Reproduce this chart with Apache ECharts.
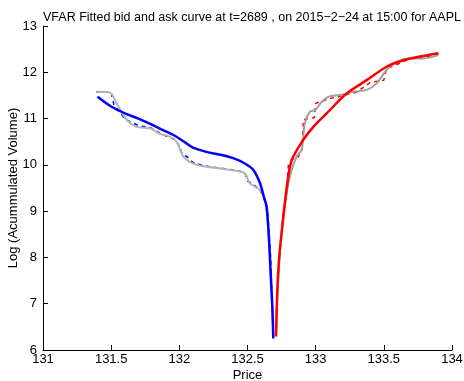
<!DOCTYPE html>
<html><head><meta charset="utf-8">
<script src="https://cdn.jsdelivr.net/npm/echarts@6/dist/echarts.min.js"></script>
<style>html,body{margin:0;padding:0;background:#fff}#c{width:464px;height:381px}</style>
</head><body><div id="c"></div>
<script>
var titleText = 'VFAR Fitted bid and ask curve at t=2689 , on 2015\u22122\u221224 at 15:00 for AAPL';
var xTicks = [131, 131.5, 132, 132.5, 133, 133.5, 134];

var bidFitX = [131.40,131.50,131.61,131.70,131.79,131.88,131.96,132.03,132.10,132.20,132.30,132.40,132.48,132.54,132.59,132.62,132.64,132.658,132.670,132.682,132.689];
var bidFitY = [11.47,11.26,11.10,11.00,10.88,10.75,10.64,10.51,10.37,10.28,10.22,10.14,10.03,9.90,9.62,9.31,9.10,8.38,7.66,6.94,6.25];

var askFitX = [132.709,132.719,132.733,132.758,132.792,132.824,132.909,132.983,133.08,133.227,133.374,133.52,133.643,133.765,133.90];
var askFitY = [6.29,7.30,8.02,8.74,9.60,10.10,10.54,10.82,11.11,11.54,11.83,12.12,12.26,12.34,12.41];

var bidObsX = [131.39,131.49,131.54,131.614,131.687,131.785,131.858,131.93,131.98,132.03,132.10,132.176,132.30,132.42,132.48,132.518,132.59,132.628,132.645,132.66,132.672,132.684,132.69];
var bidObsY = [11.58,11.56,11.33,10.97,10.82,10.79,10.67,10.61,10.50,10.18,10.03,9.97,9.92,9.87,9.82,9.60,9.46,9.24,8.9,8.2,7.4,6.8,6.3];

var bidRawX = [131.39,131.50,131.52,131.60,131.64,131.70,131.79,131.86,131.92,131.97,132.00,132.02,132.06,132.10,132.18,132.30,132.42,132.48,132.50,132.53,132.59,132.63,132.65,132.67,132.68,132.69];
var bidRawY = [11.58,11.57,11.30,11.00,10.93,10.85,10.80,10.68,10.60,10.55,10.40,10.24,10.17,10.05,9.98,9.93,9.88,9.83,9.65,9.61,9.46,9.24,8.9,8.0,7.0,6.3];

var askObsX = [132.71,132.72,132.74,132.763,132.81,132.86,132.897,132.92,132.958,132.995,133.044,133.093,133.18,133.276,133.374,133.447,133.52,133.594,133.692,133.79,133.90];
var askObsY = [6.3,7.2,8.2,8.88,9.74,10.18,10.32,10.89,11.15,11.18,11.36,11.47,11.51,11.58,11.62,11.76,12.05,12.23,12.30,12.30,12.37];

var askRawX = [132.71,132.72,132.74,132.76,132.79,132.80,132.83,132.87,132.90,132.91,132.99,133.00,133.09,133.20,133.30,133.40,133.50,133.52,133.58,133.70,133.80,133.90];
var askRawY = [6.3,7.3,8.2,8.9,9.6,10.0,10.12,10.16,10.35,10.98,11.02,11.33,11.42,11.50,11.57,11.78,11.83,12.08,12.15,12.30,12.32,12.40];

function pairs(xs, ys){ return xs.map(function(x,i){ return [x, ys[i]]; }); }

var FONT = '"Liberation Sans", Arial, sans-serif';
var chart = echarts.init(document.getElementById('c'), null, {renderer:'canvas'});
chart.setOption({
  animation: false,
  backgroundColor: '#fff',
  title: { text: titleText, left: 247, textAlign: 'center', top: 6,
    textStyle: { fontFamily: FONT, fontSize: 12.5, fontWeight: 'normal', color: '#000' } },
  grid: { left: 43, right: 12, top: 26, bottom: 31, containLabel: false, outerBoundsMode: 'none' },
  xAxis: { type: 'value', min: 131, max: 134, interval: 0.5,
    name: 'Price', nameLocation: 'middle', nameGap: 19, nameMoveOverlap: false,
    nameTextStyle: { fontFamily: FONT, fontSize: 13, color: '#000' },
    axisLine: { show: true, lineStyle: { color: '#000', width: 1 } },
    axisTick: { show: true, inside: true, length: 5, lineStyle: { color: '#000' } },
    axisLabel: { fontFamily: FONT, fontSize: 13, color: '#000', margin: 3,
      formatter: function(v){ return String(v); } },
    splitLine: { show: false } },
  yAxis: { type: 'value', min: 6, max: 13, interval: 1,
    name: 'Log (Acummulated Volume)', nameLocation: 'middle', nameGap: 23, nameMoveOverlap: false,
    nameTextStyle: { fontFamily: FONT, fontSize: 13, color: '#000' },
    axisLine: { show: true, lineStyle: { color: '#000', width: 1 } },
    axisTick: { show: true, inside: true, length: 5, lineStyle: { color: '#000' } },
    axisLabel: { fontFamily: FONT, fontSize: 13, color: '#000', margin: 6 },
    splitLine: { show: false } },
  series: [
    { type: 'line', data: pairs(bidRawX, bidRawY), showSymbol: false, z: 1,
      lineStyle: { color: '#0000ff', width: 1.5, type: [4, 4] } },
    { type: 'line', data: pairs(askRawX, askRawY), showSymbol: false, z: 1,
      lineStyle: { color: '#ff0000', width: 1.5, type: [4, 4] } },
    { type: 'line', data: pairs(bidObsX, bidObsY), showSymbol: false, smooth: 0.3, z: 2,
      lineStyle: { color: '#b4b4b4', width: 2 } },
    { type: 'line', data: pairs(askObsX, askObsY), showSymbol: false, smooth: 0.3, z: 2,
      lineStyle: { color: '#a0a0a0', width: 2 } },
    { type: 'line', data: pairs(bidFitX, bidFitY), showSymbol: false, smooth: 0.3, z: 3,
      lineStyle: { color: '#0000ff', width: 2.5 } },
    { type: 'line', data: pairs(askFitX, askFitY), showSymbol: false, smooth: 0.3, z: 3,
      lineStyle: { color: '#ff0000', width: 2.5 } }
  ]
});
</script></body></html>
